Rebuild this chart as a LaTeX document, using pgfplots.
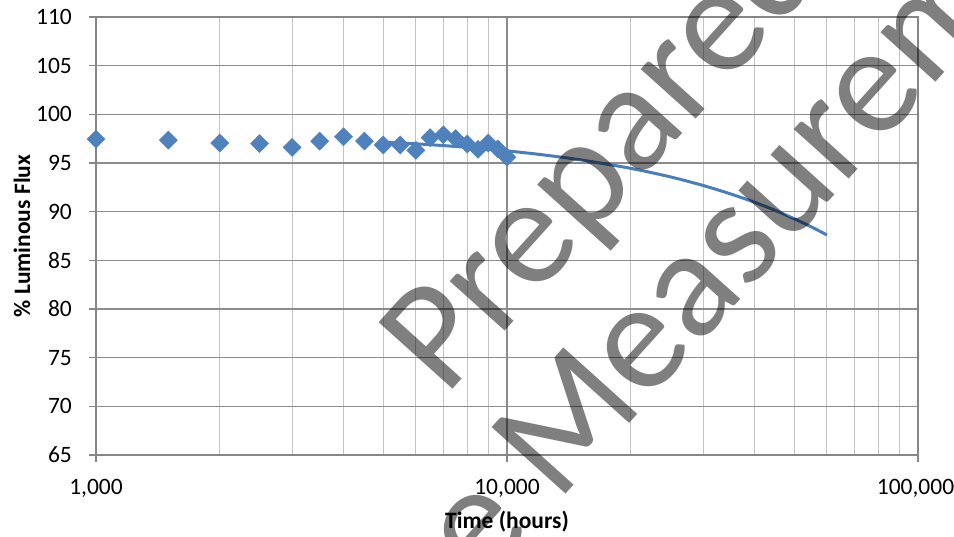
\documentclass[border=0pt]{standalone}
\usepackage{pgfplots}
\pgfplotsset{compat=1.18}
\usepackage{fontspec}
\setmainfont{Carlito}
\definecolor{mk}{RGB}{79,129,189}
\definecolor{ln}{RGB}{74,126,187}
\definecolor{gmaj}{RGB}{140,140,140}
\definecolor{gmin}{RGB}{195,195,195}
\definecolor{axc}{RGB}{134,134,134}
\begin{document}
\begin{tikzpicture}[x=1pt,y=1pt]
\useasboundingbox (0,0) rectangle (954,537);
\clip (0,0) rectangle (954,537);
\begin{axis}[
  at={(96pt,82pt)}, anchor=south west,
  scale only axis, width=822pt, height=438pt,
  xmode=log, log basis x=10,
  xmin=1000, xmax=100000, ymin=65, ymax=110,
  xtick={1000,10000,100000},
  xticklabels={1{,}000,10{,}000,\hspace{-5pt}100{,}000},
  ytick={65,70,...,110},
  yticklabels={65,70,75,80,85,90,95,100,105,110},
  minor xtick={2000,3000,4000,5000,6000,7000,8000,9000,20000,30000,40000,50000,60000,70000,80000,90000},
  xmajorgrids, ymajorgrids, xminorgrids,
  major grid style={draw=gmaj, line width=1.3pt},
  minor grid style={draw=gmin, line width=1.2pt},
  axis line style={draw=axc, line width=1.3pt},
  tick style={draw=axc, line width=1.3pt},
  minor tick length=0pt,
  major tick length=7pt,
  tick align=outside,
  xtick pos=bottom, ytick pos=left,
  ticklabel style={font=\fontsize{23.5}{23.5}\selectfont, text=black},
  yticklabel style={anchor=east, inner sep=0pt, xshift=-17pt},
  xticklabel style={anchor=north, inner sep=0pt, yshift=-17pt},
  xlabel={Time (hours)}, ylabel={\% Luminous Flux},
  every axis x label/.style={at={(axis description cs:0.5,-0.1674)}, anchor=base, inner sep=0pt, font=\bfseries\fontsize{23.5}{23.5}\selectfont},
  every axis y label/.style={at={(axis description cs:-0.0803,0.5)}, anchor=base, rotate=90, inner sep=0pt, font=\bfseries\fontsize{23.5}{23.5}\selectfont},
  clip=false,
]
\addplot[draw=ln, line width=3pt, smooth] coordinates {
 (5000,97.15) (6000,96.97) (7000,96.79) (8000,96.60) (10000,96.24) (12000,95.88)
 (15000,95.34) (20000,94.45) (25000,93.57) (30000,92.69) (35000,91.82)
 (40000,90.97) (45000,90.12) (50000,89.27) (55000,88.44) (60000,87.61)
};
\addplot[only marks, mark=square*, mark size=6.4pt, mark options={rotate=45, fill=mk, draw=mk}] coordinates {
 (1000,97.45) (1500,97.35) (2000,97.05) (2500,97.0) (3000,96.6) (3500,97.25)
 (4000,97.7) (4500,97.25) (5000,96.85) (5500,96.85) (6000,96.3) (6500,97.6)
 (7000,97.9) (7500,97.5) (8000,96.95) (8500,96.4) (9000,97.05) (9500,96.45)
 (10000,95.6)
};
\end{axis}
\node[rotate=48, anchor=base west, inner sep=0pt, text=black, text opacity=0.5, font=\fontsize{155}{155}\selectfont] at (445,139) {Prepared};
\node[rotate=48, anchor=base west, inner sep=0pt, text=black, text opacity=0.5, font=\fontsize{155}{155}\selectfont] at (482,-50) {e Measurement};
\end{tikzpicture}
\end{document}
